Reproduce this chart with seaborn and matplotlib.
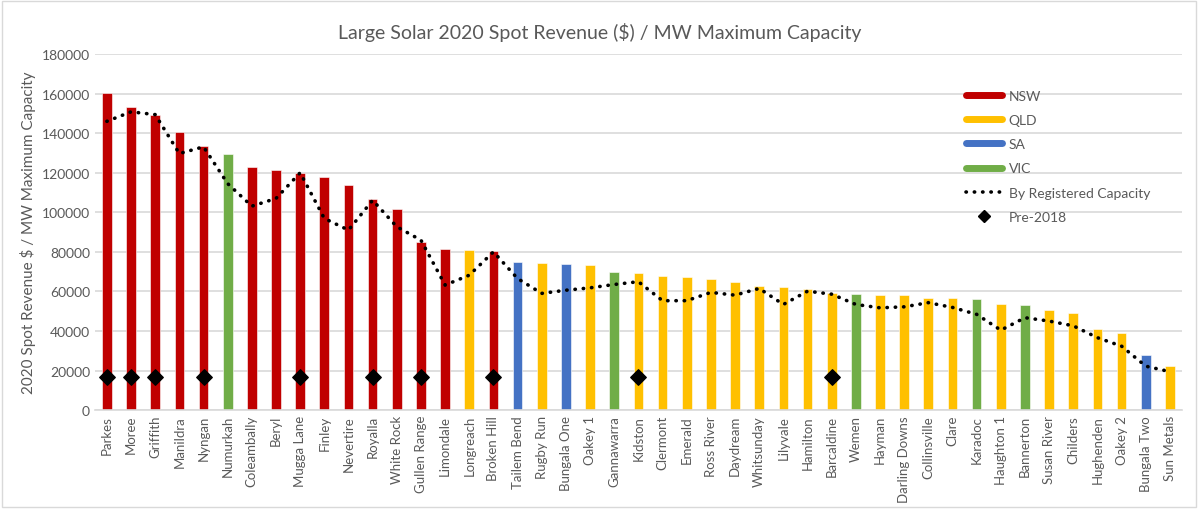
import numpy as np
import pandas as pd
import matplotlib
matplotlib.use('Agg')
import matplotlib.pyplot as plt
import seaborn as sns
from matplotlib.lines import Line2D
from matplotlib.patches import Rectangle

farms = ['Parkes', 'Moree', 'Griffith', 'Manildra', 'Nyngan', 'Numurkah', 'Coleambally',
         'Beryl', 'Mugga Lane', 'Finley', 'Nevertire', 'Royalla', 'White Rock',
         'Gullen Range', 'Limondale', 'Longreach', 'Broken Hill', 'Tailem Bend',
         'Rugby Run', 'Bungala One', 'Oakey 1', 'Gannawarra', 'Kidston', 'Clermont',
         'Emerald', 'Ross River', 'Daydream', 'Whitsunday', 'Lilyvale', 'Hamilton',
         'Barcaldine', 'Wemen', 'Hayman', 'Darling Downs', 'Collinsville', 'Clare',
         'Karadoc', 'Haughton 1', 'Bannerton', 'Susan River', 'Childers', 'Hughenden',
         'Oakey 2', 'Bungala Two', 'Sun Metals']

states = ['NSW', 'NSW', 'NSW', 'NSW', 'NSW', 'VIC', 'NSW',
          'NSW', 'NSW', 'NSW', 'NSW', 'NSW', 'NSW',
          'NSW', 'NSW', 'QLD', 'NSW', 'SA',
          'QLD', 'SA', 'QLD', 'VIC', 'QLD', 'QLD',
          'QLD', 'QLD', 'QLD', 'QLD', 'QLD', 'QLD',
          'QLD', 'VIC', 'QLD', 'QLD', 'QLD', 'QLD',
          'VIC', 'QLD', 'VIC', 'QLD', 'QLD', 'QLD',
          'QLD', 'SA', 'QLD']

revenue = [160500, 153300, 149400, 140700, 133600, 129700, 123100,
           121500, 120000, 117700, 113700, 106600, 101800,
           85200, 81500, 80900, 80500, 74800,
           74600, 74100, 73600, 69600, 69100, 67700,
           67400, 66200, 64700, 62500, 62200, 61300,
           59000, 58800, 58300, 58100, 56800, 56600,
           56300, 53400, 52900, 50700, 49000, 40800,
           38900, 27600, 22100]

by_capacity = [146000, 150800, 149400, 129700, 133100, 114500, 103100,
               107000, 120000, 96900, 91000, 106100, 92700,
               85900, 63200, 68200, 80000, 66500,
               59000, 60600, 61800, 63500, 64900, 55300,
               55300, 59500, 58100, 61500, 53400, 60100,
               58600, 53400, 51700, 52200, 54300, 51900,
               48400, 40400, 46700, 45000, 42600, 36600,
               32300, 22200, 19400]

pre_2018 = ['Parkes', 'Moree', 'Griffith', 'Nyngan', 'Mugga Lane', 'Royalla',
            'Gullen Range', 'Broken Hill', 'Kidston', 'Barcaldine']
pre_2018_value = 16500

state_order = ['NSW', 'QLD', 'SA', 'VIC']
state_colors = {'NSW': '#C00000', 'QLD': '#FFC000', 'SA': '#4472C4', 'VIC': '#70AD47'}

df = pd.DataFrame({'farm': farms, 'state': states, 'revenue': revenue,
                   'capacity': by_capacity})
pre_df = pd.DataFrame({'farm': pre_2018, 'value': [pre_2018_value] * len(pre_2018)})

sns.set_style('white')
plt.rcParams['font.family'] = ['Lato', 'DejaVu Sans']
text_gray = '#595959'
grid_gray = '#D9D9D9'

fig = plt.figure(figsize=(12, 5.1), dpi=100)
ax = fig.add_axes([0.079, 0.194, 0.906, 0.698])

sns.barplot(data=df, x='farm', y='revenue', hue='state', hue_order=state_order,
            palette=state_colors, saturation=1, dodge=False, width=0.4, order=farms,
            edgecolor='white', linewidth=0.4, legend=False, ax=ax, zorder=2)

xpos = np.arange(len(farms))
ax.plot(xpos, df['capacity'], color='black', linestyle=(0, (0.1, 2.2)),
        linewidth=2.6, dash_capstyle='round', zorder=3)

pre_x = [farms.index(f) for f in pre_df['farm']]
ax.scatter(pre_x, pre_df['value'], marker='D', s=62, color='black', zorder=4)

ax.set_xlim(-0.5, len(farms) - 0.5)
ax.set_ylim(0, 180000)
ax.set_yticks(np.arange(0, 180001, 20000))
ax.yaxis.grid(True, color=grid_gray, linewidth=1.2, zorder=0)
ax.set_axisbelow(True)
for s in ['top', 'right', 'left']:
    ax.spines[s].set_visible(False)
ax.spines['bottom'].set_color(grid_gray)
ax.spines['bottom'].set_linewidth(1.2)

ax.tick_params(axis='both', length=0, colors=text_gray, labelsize=9.5)
ax.tick_params(axis='y', labelsize=10)
ax.set_xticks(xpos)
ax.set_xticklabels(farms, rotation=90)
ax.set_xlabel('')
ax.set_ylabel('2020 Spot Revenue $ / MW Maximum Capacity', color=text_gray, fontsize=11)

fig.suptitle('Large Solar 2020 Spot Revenue ($) / MW Maximum Capacity',
             color=text_gray, fontsize=14, y=0.955)

handles = [Line2D([0], [0], color=state_colors[s], linewidth=5) for s in state_order]
handles.append(Line2D([0], [0], color='black', linestyle=(0, (0.1, 2.2)),
                      linewidth=2.6, dash_capstyle='round'))
handles.append(Line2D([0], [0], color='black', marker='D', markersize=6, linestyle='None'))
labels = state_order + ['By Registered Capacity', 'Pre-2018']
leg = ax.legend(handles, labels, loc='upper left', bbox_to_anchor=(0.79, 0.935),
                frameon=False, handlelength=2.6, labelspacing=0.88, fontsize=10,
                handletextpad=0.45)
for t in leg.get_texts():
    t.set_color(text_gray)

fig.patches.append(Rectangle((0.002, 0.004), 0.995, 0.992, transform=fig.transFigure,
                             fill=False, edgecolor=grid_gray, linewidth=1))

fig.savefig('out.png', dpi=100)
